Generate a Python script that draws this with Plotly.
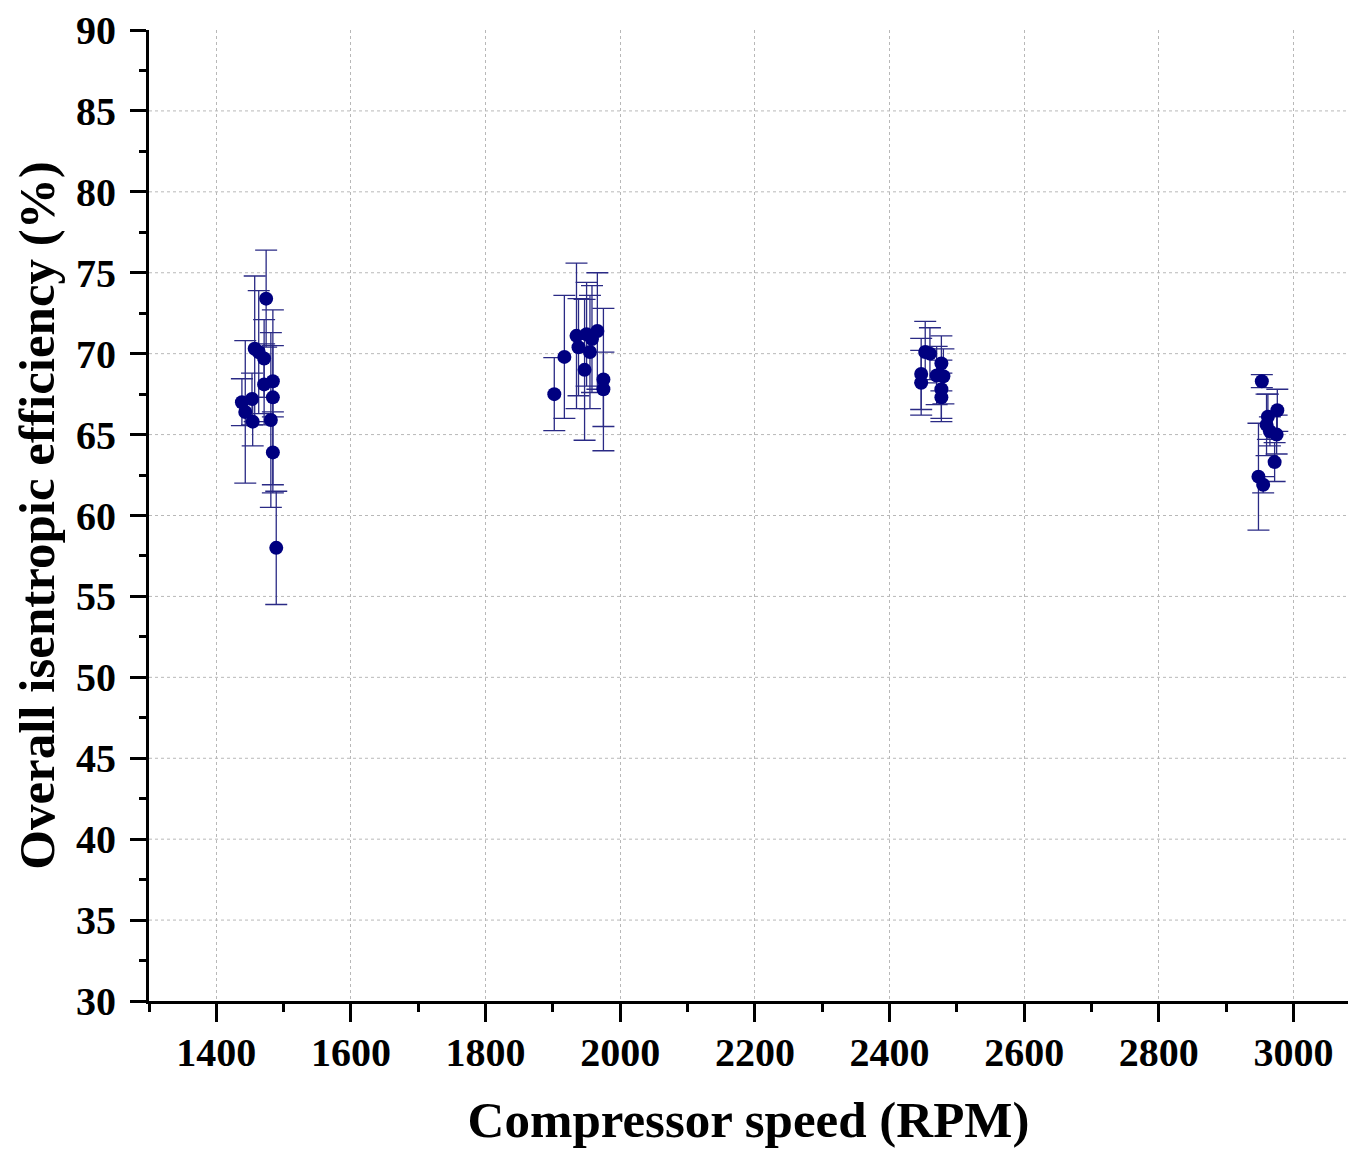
import plotly.graph_objects as go

# Compressor speed (RPM)
speed = [1438, 1443, 1453, 1454, 1457, 1463, 1474, 1471, 1471, 1484, 1484, 1481, 1484, 1489,
         1902, 1917, 1935, 1938, 1947, 1950, 1955, 1958, 1966, 1975, 1975,
         2447, 2447, 2453, 2460, 2470, 2477, 2480, 2477, 2477,
         2953, 2962, 2976, 2960, 2965, 2975, 2972, 2948, 2955]
# Overall isentropic efficiency (%)
efficiency = [67.0, 66.4, 67.2, 65.8, 70.3, 70.1, 73.4, 69.7, 68.1, 68.3, 67.3, 65.9, 63.9, 58.0,
              67.5, 69.8, 71.1, 70.4, 69.0, 71.2, 70.1, 70.9, 71.4, 68.4, 67.8,
              68.75, 68.2, 70.1, 70.0, 68.65, 69.4, 68.6, 67.8, 67.3,
              68.3, 66.1, 66.5, 65.6, 65.2, 65.0, 63.3, 62.4, 61.9]
# Uncertainty (+/- %)
uncertainty = [1.45, 4.4, 1.6, 1.5, 4.5, 3.8, 3.0, 2.4, 2.5, 2.2, 5.4, 5.4, 2.5, 3.5,
               2.25, 3.8, 4.5, 3.0, 4.35, 3.2, 3.5, 3.3, 3.6, 4.4, 2.3,
               2.2, 2.0, 1.9, 1.6, 1.8, 1.7, 1.7, 1.8, 1.5,
               0.4, 1.4, 1.3, 1.9, 0.9, 1.2, 1.2, 3.3, 0.5]

x_ticks = [1400, 1600, 1800, 2000, 2200, 2400, 2600, 2800, 3000]
y_ticks = [30, 35, 40, 45, 50, 55, 60, 65, 70, 75, 80, 85, 90]

navy = "#000080"
font_family = "Liberation Serif, Times New Roman, serif"
grid_color = "#b8b8b8"

fig = go.Figure()
fig.add_trace(go.Scatter(
    x=speed, y=efficiency, mode="markers",
    marker=dict(color=navy, size=14, line=dict(width=0)),
    error_y=dict(type="data", array=uncertainty, visible=True,
                 color="#2a2a85", thickness=1.3, width=11),
    showlegend=False,
))

# horizontal dotted grid lines (inner ticks only, like the reference)
for v in y_ticks[1:-1]:
    fig.add_shape(type="line", xref="paper", yref="y", x0=0, x1=1, y0=v, y1=v,
                  line=dict(color=grid_color, width=1, dash="dot"), layer="below")

axis_common = dict(
    showline=True, linewidth=3, linecolor="black", mirror=False,
    ticks="outside", tickwidth=3, tickcolor="black",
    zeroline=False, ticklabeloverflow="allow",
    tickfont=dict(family=font_family, size=40, color="black", weight="bold"),
)

fig.update_layout(
    width=1340, height=1140,
    margin=dict(l=141, r=0, t=22, b=147, autoexpand=False),
    paper_bgcolor="white", plot_bgcolor="white",
    xaxis=dict(
        range=[1300, 3081], tickvals=x_ticks, ticklen=18,
        showgrid=True, gridcolor=grid_color, gridwidth=1, griddash="dot",
        ticklabelstandoff=-4,
        minor=dict(ticks="outside", ticklen=8, tickwidth=3, tickcolor="black",
                   dtick=100, tick0=1300, showgrid=False),
        title=dict(text="Compressor speed (RPM)", standoff=46,
                   font=dict(family=font_family, size=51, color="black", weight="bold")),
        **axis_common,
    ),
    yaxis=dict(
        range=[30, 90], tickvals=y_ticks, ticklen=16,
        showgrid=False, ticklabelstandoff=6,
        minor=dict(ticks="outside", ticklen=7, tickwidth=3, tickcolor="black",
                   dtick=2.5, tick0=30, showgrid=False),
        title=dict(text="Overall isentropic efficiency (%)", standoff=6,
                   font=dict(family=font_family, size=51, color="black", weight="bold")),
        **axis_common,
    ),
)

fig.write_html("out.html")
